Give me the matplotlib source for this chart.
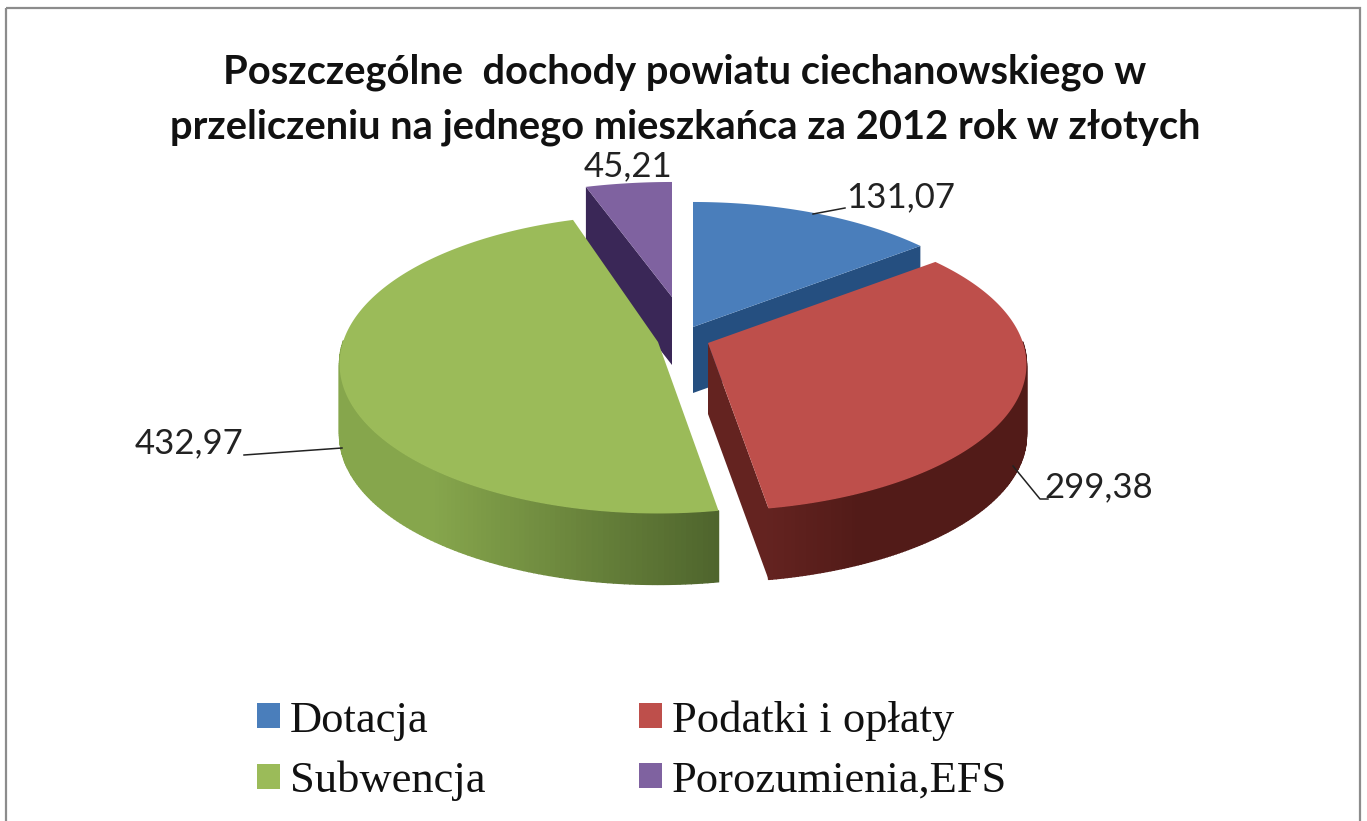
import numpy as np
import matplotlib
matplotlib.use("Agg")
import matplotlib.pyplot as plt
from matplotlib.patches import Polygon, Rectangle
from matplotlib.colors import to_rgb

title = "Poszczególne  dochody powiatu ciechanowskiego w\nprzeliczeniu na jednego mieszkańca za 2012 rok w złotych"
categories = ["Dotacja", "Podatki i opłaty", "Subwencja", "Porozumienia,EFS"]
values = [131.07, 299.38, 432.97, 45.21]
value_labels = ["131,07", "299,38", "432,97", "45,21"]
top_colors = ["#4A7EBB", "#BE4F4B", "#9BBB59", "#7F62A0"]
side_left = ["#254F80", "#642320", "#86A64C", "#3A2757"]
side_right = ["#254F80", "#521B18", "#4F652D", "#3A2757"]
apex = [(693, 327), (708, 343), (658, 342), (672, 297)]
rx_scale = [1.0, 1.0, 1.0, 1.013]
ry_scale = [1.0, 1.0, 1.02, 0.92]
depth = [66, 71, 71, 68]
cut_face = [1, 1, None, 0]   # which straight edge of each slice shows a dark cut face

RX, RY, K = 315, 143.4, 0.147

fig = plt.figure(figsize=(13.67, 8.21), dpi=100, facecolor="white")
ax = fig.add_axes([0, 0, 1, 1])
ax.set_xlim(0, 1367)
ax.set_ylim(821, 0)
ax.axis("off")

ax.add_patch(Rectangle((6, 8), 1354, 830, fill=False, ec="#8C8C8C", lw=1.6))


def project(theta, i):
    u, v = np.sin(theta), np.cos(theta)
    s = 1 / (1 + K * v)
    return apex[i][0] + u * RX * rx_scale[i] * s, apex[i][1] - v * RY * ry_scale[i] * s


edges = np.concatenate([[0], np.cumsum(values)]) / np.sum(values) * 2 * np.pi


def draw_slice(i):
    a, b = edges[i], edges[i + 1]
    ap = apex[i]
    D = depth[i]
    th = np.linspace(a, b, 200)
    x, y = project(th, i)
    if cut_face[i] is not None:
        t = (a, b)[cut_face[i]]
        px, py = project(t, i)
        ax.add_patch(Polygon([ap, (px, py), (px, py + D), (ap[0], ap[1] + D)],
                             fc=side_left[i], ec="none"))
    cl, cr = np.array(to_rgb(side_left[i])), np.array(to_rgb(side_right[i]))
    for j in range(len(th) - 1):
        if th[j + 1] < np.pi / 2 or th[j] > 3 * np.pi / 2:
            continue
        if i == 2:
            f = (x[j] - x.min()) / (x.max() - x.min())
            f = np.clip((f - 0.25) / 0.75, 0, 1)
            c = cl + (cr - cl) * f
        else:
            f = (x[j] - x.min()) / (x.max() - x.min())
            c = cl + (cr - cl) * np.clip(f / 0.35, 0, 1)
        ax.add_patch(Polygon([(x[j], y[j]), (x[j + 1], y[j + 1]),
                              (x[j + 1], y[j + 1] + D), (x[j], y[j] + D)],
                             fc=c, ec=c, lw=1.0))
    ax.add_patch(Polygon(np.vstack([[ap], np.column_stack([x, y])]), fc=top_colors[i], ec="none"))


for idx in (3, 0, 2, 1):
    draw_slice(idx)

ax.text(685, 100, title, ha="center", va="center", fontsize=28.7, fontweight="bold",
        family="Lato", color="#111111", linespacing=1.6)

label_pos = [(901, 197), (1099, 487), (189, 443), (628, 166)]
for txt, (lx, ly) in zip(value_labels, label_pos):
    ax.text(lx, ly, txt, ha="center", va="center", fontsize=25, family="Lato", color="#222222")

leaders = [[(813, 214), (845, 208)], [(1013, 466), (1040, 499), (1048, 499)], [(244, 455), (342, 448)]]
for pts in leaders:
    ax.plot(*zip(*pts), color="#222222", lw=1.1)

order = [0, 2, 1, 3]
handles = [Rectangle((0, 0), 1, 1, fc=top_colors[k], ec="none") for k in order]
labels = [categories[k] for k in order]
leg = fig.legend(handles, labels, ncols=2, loc="upper left", bbox_to_anchor=(257 / 1367, 1 - 700 / 821),
                 frameon=False, prop={"family": "Liberation Serif", "size": 32},
                 handlelength=0.52, handleheight=0.5, handletextpad=0.22, columnspacing=3.45,
                 labelspacing=0.45, borderpad=0, borderaxespad=0)
for t in leg.get_texts():
    t.set_color("#111111")

fig.savefig("out.png", dpi=100)
